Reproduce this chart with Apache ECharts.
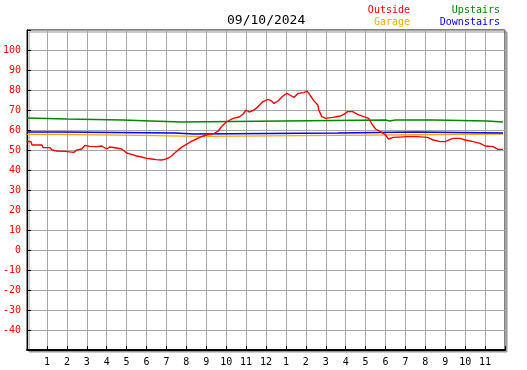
<!DOCTYPE html>
<html>
<head>
  <meta charset="utf-8">
  <title>09/10/2024</title>
  <script src="https://cdn.jsdelivr.net/npm/echarts@6/dist/echarts.min.js"></script>
  <style>
    body { margin:0; background:#fff; }
    #main { width:527px; height:370px; }
  </style>
</head>
<body>
<div id="main"></div>
<script type="text/javascript">
// hour of day, temperature
var outside = [
  [0.0,54.5],[0.2,54.0],[0.25,52.5],[0.75,52.5],[0.8,51.2],[1.15,51.2],[1.25,50.0],[1.5,49.5],
  [1.9,49.3],[2.0,48.8],[2.35,48.8],[2.5,50.0],[2.75,50.5],[2.9,52.3],[3.15,51.8],[3.5,51.7],
  [3.75,52.0],[4.0,50.5],[4.15,51.5],[4.5,51.0],[4.75,50.5],[5.0,48.5],[5.25,47.8],[5.5,47.0],
  [5.75,46.5],[6.0,45.8],[6.25,45.5],[6.5,45.2],[6.75,45.0],[6.9,45.3],[7.1,46.0],[7.25,47.0],
  [7.5,49.2],[7.75,51.3],[8.0,52.8],[8.25,54.3],[8.5,55.5],[8.75,56.7],[9.0,57.5],[9.4,58.3],
  [9.6,59.5],[9.75,61.5],[10.0,64.0],[10.35,65.8],[10.65,66.5],[10.85,68.0],[11.0,70.0],[11.15,69.0],
  [11.4,70.0],[11.6,71.7],[11.85,74.2],[12.1,75.3],[12.25,74.7],[12.4,73.3],[12.6,74.5],[12.85,77.0],
  [13.05,78.3],[13.2,77.5],[13.4,76.3],[13.6,78.3],[13.9,78.7],[14.05,79.5],[14.15,78.3],[14.4,74.7],
  [14.6,72.5],[14.65,70.0],[14.8,66.7],[15.0,65.8],[15.35,66.3],[15.75,67.0],[15.9,67.8],[16.1,69.2],
  [16.35,69.2],[16.6,67.8],[16.9,66.7],[17.15,65.8],[17.35,62.5],[17.5,60.5],[17.75,59.2],[18.0,57.5],
  [18.15,55.5],[18.4,56.3],[19.1,56.7],[19.6,56.7],[20.1,56.3],[20.4,55.0],[20.75,54.2],[21.0,54.2],
  [21.25,55.3],[21.4,55.8],[21.75,55.8],[22.0,55.0],[22.4,54.2],[22.75,53.3],[23.0,52.0],[23.4,51.7],
  [23.65,50.3],[23.9,50.3]
];
var upstairs = [
  [0.0,66.0],[0.1,65.5],[2.0,65.0],[4.8,64.5],[6.2,64.0],[7.8,64.5],[12.8,65.0],
  [18.0,65.0],[18.1,64.5],[18.2,65.0],[18.5,64.5],[18.6,65.0],[18.9,64.5],[19.0,65.0],
  [19.3,64.5],[19.4,65.0],[20.2,64.5],[20.3,65.0],[20.4,64.5],[23.1,64.0],[23.9,64.0]
];
var garage = [
  [0.0,57.8],[1.5,57.3],[5.7,56.8],[8.6,57.3],[15.6,58.0],[23.9,58.0]
];
var downstairs = [
  [0.0,59.0],[1.6,58.5],[7.4,58.0],[8.4,58.5],[15.6,59.0],[19.5,58.5],[23.9,58.5]
];
var legendNames = ['Outside', 'Garage', 'Upstairs', 'Downstairs'];
var legendColors = ['#ff0000', '#ffa500', '#008800', '#0000ff'];

var mono = 'DejaVu Sans Mono';
var myChart = echarts.init(document.getElementById('main'));

function line(name, data, color, step) {
  return {
    name: name, type: 'line', data: data, step: step,
    showSymbol: false, animation: false,
    lineStyle: { color: color, width: 1.4 }
  };
}

var option = {
  animation: false,
  title: {
    text: '09/10/2024', left: 222, top: 9,
    textStyle: { fontFamily: mono, fontSize: 13, fontWeight: 'normal', color: '#000' }
  },
  graphic: [
    { type: 'text', right: 117, top: 5, style: { text: legendNames[0], fill: legendColors[0], font: '10px ' + mono } },
    { type: 'text', right: 117, top: 17, style: { text: legendNames[1], fill: legendColors[1], font: '10px ' + mono } },
    { type: 'text', right: 27, top: 5, style: { text: legendNames[2], fill: legendColors[2], font: '10px ' + mono } },
    { type: 'text', right: 27, top: 17, style: { text: legendNames[3], fill: legendColors[3], font: '10px ' + mono } }
  ],
  grid: {
    left: 25, right: 22, top: 30, bottom: 20,
    show: true, backgroundColor: '#fff', borderColor: '#000', borderWidth: 1,
    shadowColor: '#999', shadowOffsetX: 2, shadowOffsetY: 2, shadowBlur: 0
  },
  xAxis: {
    type: 'value', min: 0, max: 24, interval: 1,
    axisLine: { onZero: false, lineStyle: { color: '#000', width: 2 } },
    axisTick: { inside: true, length: 4, lineStyle: { color: '#000' } },
    axisLabel: {
      color: '#000', fontFamily: mono, fontSize: 10, margin: 7,
      formatter: function (v) {
        if (v <= 0 || v >= 24) return '';
        return v % 12 == 0 ? '12' : String(v % 12);
      }
    },
    splitLine: { lineStyle: { color: '#a6a6a6', width: 1 } }
  },
  yAxis: {
    type: 'value', min: -50, max: 110, interval: 10,
    axisLine: { show: true, lineStyle: { color: '#000', width: 1 } },
    axisTick: { inside: true, length: 4, lineStyle: { color: '#000' } },
    axisLabel: {
      color: '#ff0000', fontFamily: mono, fontSize: 10, margin: 6,
      formatter: function (v) {
        if (v <= -50 || v >= 110) return '';
        return String(v);
      }
    },
    splitLine: { lineStyle: { color: '#a6a6a6', width: 1 } }
  },
  series: [
    line('Upstairs', upstairs, legendColors[2], 'end'),
    line('Garage', garage, legendColors[1], 'end'),
    line('Downstairs', downstairs, legendColors[3], 'end'),
    line('Outside', outside, legendColors[0], false)
  ]
};
myChart.setOption(option);
</script>
</body>
</html>
